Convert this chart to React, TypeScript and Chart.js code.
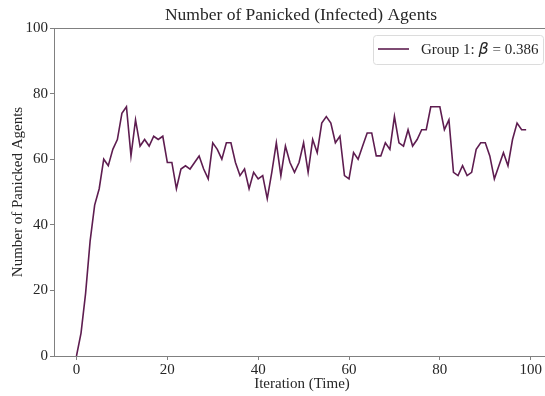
import React, { useEffect, useRef } from "react";
import { Chart, registerables } from "chart.js";

Chart.register(...registerables);

// Panicked agent counts per iteration (iterations 0..99)
const iterations: number[] = Array.from({ length: 100 }, (_, i) => i);
const panicked: number[] = [
  0, 7, 19, 35, 46, 51, 60, 58, 63, 66, 74, 76, 61, 72, 64, 66, 64, 67, 66, 67,
  59, 59, 51, 57, 58, 57, 59, 61, 57, 54, 65, 63, 60, 65, 65, 59, 55, 57, 51, 56,
  54, 55, 48, 56, 65, 55, 64, 59, 56, 59, 65, 56, 66, 62, 71, 73, 71, 65, 67, 55,
  54, 62, 60, 64, 68, 68, 61, 61, 65, 63, 73, 65, 64, 69, 64, 66, 69, 69, 76, 76,
  76, 69, 72, 56, 55, 58, 55, 56, 63, 65, 65, 61, 54, 58, 62, 58, 66, 71, 69, 69,
];
const xTicks: number[] = [0, 20, 40, 60, 80, 100];
const yTicks: number[] = [0, 20, 40, 60, 80, 100];

const TITLE = "Number of Panicked (Infected) Agents";
const X_LABEL = "Iteration (Time)";
const Y_LABEL = "Number of Panicked Agents";
const LEGEND_PARTS = ["Group 1: ", "β", " = 0.386"];

const LINE_COLOR = "#5e1d50";
const SPINE_COLOR = "#808080";
const TEXT_COLOR = "#262626";
const SERIF = "'Liberation Serif', 'DejaVu Serif', serif";

const decorations = {
  id: "decorations",
  afterDraw(chart: any) {
    const { ctx, chartArea } = chart;
    const { left, right, top } = chartArea;
    ctx.save();

    // top spine
    ctx.strokeStyle = SPINE_COLOR;
    ctx.lineWidth = 1;
    ctx.beginPath();
    ctx.moveTo(left, Math.round(top) + 0.5);
    ctx.lineTo(right, Math.round(top) + 0.5);
    ctx.stroke();

    // title
    ctx.fillStyle = TEXT_COLOR;
    ctx.font = `17.5px ${SERIF}`;
    ctx.textAlign = "center";
    ctx.textBaseline = "alphabetic";
    ctx.fillText(TITLE, 301, 20);

    // x axis label
    ctx.font = `15px ${SERIF}`;
    ctx.fillText(X_LABEL, 302, 388);

    // y axis label
    ctx.save();
    ctx.translate(22, 192);
    ctx.rotate(-Math.PI / 2);
    ctx.fillText(Y_LABEL, 0, 0);
    ctx.restore();

    // legend
    const bx = 373.5, by = 35.5, bw = 170, bh = 29, r = 3;
    ctx.beginPath();
    ctx.moveTo(bx + r, by);
    ctx.lineTo(bx + bw - r, by);
    ctx.arcTo(bx + bw, by, bx + bw, by + r, r);
    ctx.lineTo(bx + bw, by + bh - r);
    ctx.arcTo(bx + bw, by + bh, bx + bw - r, by + bh, r);
    ctx.lineTo(bx + r, by + bh);
    ctx.arcTo(bx, by + bh, bx, by + bh - r, r);
    ctx.lineTo(bx, by + r);
    ctx.arcTo(bx, by, bx + r, by, r);
    ctx.closePath();
    ctx.fillStyle = "rgba(255,255,255,0.85)";
    ctx.fill();
    ctx.strokeStyle = "#dcdcdc";
    ctx.stroke();

    ctx.strokeStyle = LINE_COLOR;
    ctx.lineWidth = 1.6;
    ctx.beginPath();
    ctx.moveTo(378, 49);
    ctx.lineTo(409, 49);
    ctx.stroke();

    ctx.fillStyle = TEXT_COLOR;
    ctx.textAlign = "left";
    let tx = 421;
    const ty = 54;
    ctx.font = `15px ${SERIF}`;
    ctx.fillText(LEGEND_PARTS[0], tx, ty);
    tx += ctx.measureText(LEGEND_PARTS[0]).width;
    ctx.font = `italic 16px 'DejaVu Sans', sans-serif`;
    ctx.fillText(LEGEND_PARTS[1], tx, ty);
    tx += ctx.measureText(LEGEND_PARTS[1]).width;
    ctx.font = `15px ${SERIF}`;
    ctx.fillText(LEGEND_PARTS[2], tx, ty);

    ctx.restore();
  },
};

export default function App() {
  const canvasRef = useRef<HTMLCanvasElement | null>(null);

  useEffect(() => {
    if (!canvasRef.current) return;
    const chart = new Chart(canvasRef.current, {
      type: "line",
      data: {
        datasets: [
          {
            label: LEGEND_PARTS.join(""),
            data: iterations.map((x, i) => ({ x, y: panicked[i] })),
            borderColor: LINE_COLOR,
            backgroundColor: LINE_COLOR,
            borderWidth: 1.6,
            pointRadius: 0,
            tension: 0,
            fill: false,
          },
        ],
      },
      options: {
        animation: false,
        responsive: false,
        maintainAspectRatio: false,
        layout: { padding: { top: 28, right: 0, left: 0, bottom: 0 } },
        plugins: {
          legend: { display: false },
          title: { display: false },
          tooltip: { enabled: false },
        },
        scales: {
          x: {
            type: "linear",
            min: -4.95,
            max: 103.15,
            afterFit: (scale: any) => {
              scale.height = 40;
            },
            afterBuildTicks: (scale: any) => {
              scale.ticks = xTicks.map((v) => ({ value: v }));
            },
            grid: {
              display: true,
              drawOnChartArea: false,
              drawTicks: true,
              tickLength: 4,
              tickColor: SPINE_COLOR,
            },
            border: { display: true, color: SPINE_COLOR, width: 1 },
            ticks: {
              color: TEXT_COLOR,
              font: { family: SERIF, size: 15 },
              padding: 1,
              maxRotation: 0,
              autoSkip: false,
            },
          },
          y: {
            type: "linear",
            min: 0,
            max: 100,
            afterFit: (scale: any) => {
              scale.width = 54;
            },
            afterBuildTicks: (scale: any) => {
              scale.ticks = yTicks.map((v) => ({ value: v }));
            },
            grid: {
              display: true,
              drawOnChartArea: false,
              drawTicks: true,
              tickLength: 4,
              tickColor: SPINE_COLOR,
            },
            border: { display: true, color: SPINE_COLOR, width: 1 },
            ticks: {
              color: TEXT_COLOR,
              font: { family: SERIF, size: 15 },
              padding: 2,
              autoSkip: false,
            },
          },
        },
      },
      plugins: [decorations],
    });
    return () => chart.destroy();
  }, []);

  return (
    <div style={{ position: "fixed", left: 0, top: 0, width: 545, height: 396, background: "#fff" }}>
      <canvas ref={canvasRef} width={545} height={396} style={{ width: 545, height: 396 }} />
    </div>
  );
}
